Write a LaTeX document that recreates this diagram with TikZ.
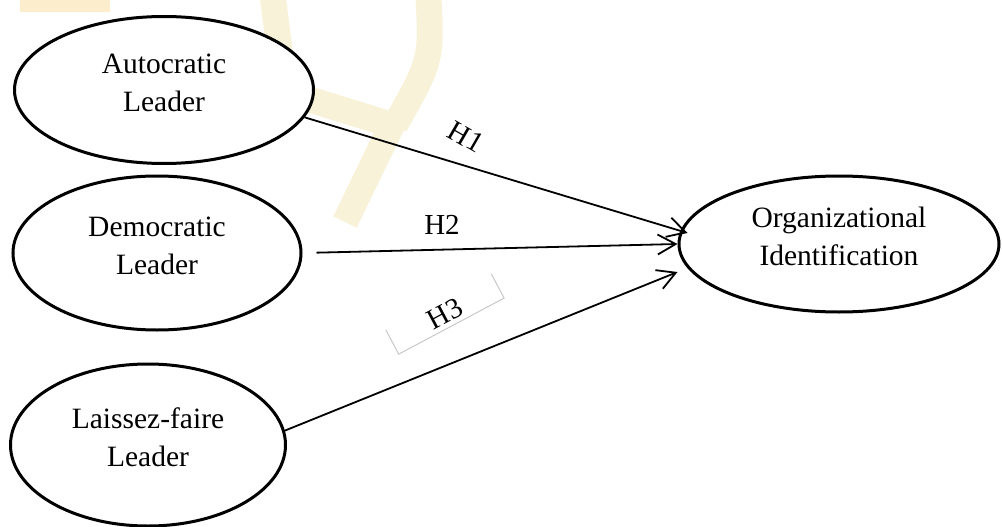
\documentclass[tikz,border=0pt]{standalone}
\usepackage{fontspec}
\setmainfont{Liberation Serif}
\usetikzlibrary{arrows.meta,shapes.geometric}
\definecolor{markyellow}{RGB}{247,242,216}
\definecolor{markorange}{RGB}{252,238,205}
\definecolor{framegray}{RGB}{200,200,200}

\begin{document}
\begin{tikzpicture}[
  x=1pt, y=-1pt,
  latent/.style={
    ellipse,
    draw=black,
    line width=3pt,
    fill=white,
    inner sep=0pt,
    align=center,
    text depth=15pt,
    font=\fontsize{29.5}{38}\selectfont
  },
  link/.style={-{Straight Barb[length=18pt,width=20pt]}, line width=1.8pt, draw=black},
  hyp/.style={inner sep=0pt, font=\fontsize{29}{30}\selectfont},
  frame/.style={draw=framegray, line width=1pt},
  wm/.style={draw=markyellow, line width=26pt}
]
\useasboundingbox (0,0) rectangle (1002,527);

% Faint watermark behind the model
\fill[markorange] (20,0) rectangle (110,12);
\draw[wm] (272,-10) -- (282,70);
\draw[wm] (428,-10) .. controls (432,60) .. (395,125);
\draw[wm] (295,95) -- (392,125) -- (345,222);

% Leadership styles
\node[latent, minimum width=299pt, minimum height=147pt] (auto) at (164,90) {Autocratic\\Leader};
\node[latent, minimum width=288pt, minimum height=154pt] (dem) at (157,253) {Democratic\\Leader};
\node[latent, minimum width=275pt, minimum height=162pt] (lai) at (148,445) {Laissez-faire\\Leader};

% Outcome
\node[latent, minimum width=320pt, minimum height=136pt] (org) at (839,244) {Organizational\\Identification};

% Hypothesised paths
\draw[link] (auto.-11) -- ([xshift=10pt,yshift=11pt]org.west);
\draw[link, shorten <=14pt] (dem.east) -- (org.west);
\draw[link] (lai.6) -- ([yshift=-28pt]org.west);

% Path labels
\node[hyp, rotate=-30] (h1) at (466,137) {H1};
\node[hyp] (h2) at (442,225) {H2};
\node[hyp, rotate=28, minimum width=119pt, minimum height=27pt] (h3) at (445,314) {H3};
\draw[frame] (h3.north west) -- (h3.south west) -- (h3.south east) -- (h3.north east);

\end{tikzpicture}
\end{document}
